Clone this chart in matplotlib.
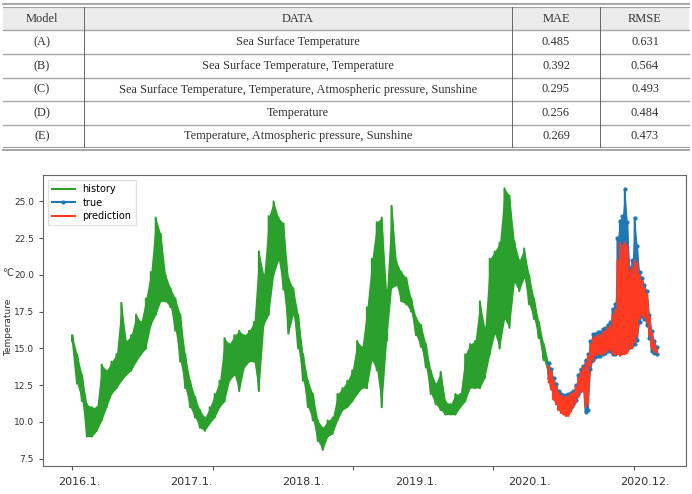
import numpy as np
import matplotlib.pyplot as plt
from matplotlib.patches import Rectangle

# ---- table content ----
header = ['Model', 'DATA', 'MAE', 'RMSE']
models = ['(A)', '(B)', '(C)', '(D)', '(E)']
inputs = ['Sea Surface Temperature',
          'Sea Surface Temperature, Temperature',
          'Sea Surface Temperature, Temperature, Atmospheric pressure, Sunshine',
          'Temperature',
          'Temperature, Atmospheric pressure, Sunshine']
mae = ['0.485', '0.392', '0.295', '0.256', '0.269']
rmse = ['0.631', '0.564', '0.493', '0.484', '0.473']

# ---- series (hourly sample index), read as low / high envelope per sample ----
hist_step = 350
hist_hi = [15.9, 14.6, 13.2, 11.2, 11.0, 11.0, 13.9, 13.5, 14.1, 14.6,
           18.1, 15.5, 15.9, 17.3, 16.8, 18.4, 20.2, 23.9, 22.8, 20.0,
           19.1, 18.4, 17.3, 14.6, 12.8, 11.7, 10.8, 10.3, 11.0, 11.9,
           12.8, 15.7, 15.3, 15.9, 16.2, 15.9, 16.2, 16.8, 21.6, 20.0,
           24.0, 25.0, 23.9, 23.5, 19.8, 19.1, 17.3, 14.6, 12.8, 11.9,
           10.1, 9.6, 10.1, 10.3, 11.9, 12.3, 12.8, 13.5, 15.5, 15.1,
           17.8, 21.1, 23.6, 23.9, 18.9, 24.7, 20.9, 20.2, 19.8, 18.4,
           17.1, 16.6, 15.3, 13.5, 12.6, 13.4, 11.4, 11.2, 11.9, 11.9,
           14.6, 15.3, 15.5, 18.2, 16.4, 21.1, 21.6, 22.2, 25.9, 25.4,
           22.3, 21.0, 21.8, 20.0, 18.4, 16.8, 15.3, 14.0]
hist_lo = [15.5, 12.6, 11.4, 9.0, 9.0, 9.4, 10.1, 11.0, 11.9, 12.3,
           12.8, 13.2, 13.5, 14.1, 14.6, 15.0, 16.6, 17.3, 18.2, 18.2,
           17.8, 16.2, 14.1, 12.3, 11.0, 10.3, 9.6, 9.4, 9.9, 10.3,
           11.0, 11.4, 12.8, 13.2, 12.1, 13.7, 14.1, 14.1, 12.1, 16.6,
           17.3, 20.0, 21.0, 19.0, 16.0, 17.3, 15.0, 12.8, 11.0, 10.1,
           8.7, 8.1, 9.0, 9.2, 10.1, 10.8, 11.0, 11.4, 11.9, 12.3,
           12.3, 14.2, 13.5, 11.0, 15.5, 19.1, 19.3, 18.2, 18.0, 17.5,
           15.9, 15.1, 13.7, 11.9, 11.2, 10.8, 10.5, 10.5, 10.5, 11.0,
           11.4, 12.3, 12.3, 12.3, 13.0, 14.6, 16.0, 15.0, 17.0, 16.4,
           19.5, 18.9, 19.8, 18.0, 17.0, 15.7, 14.2, 13.2]

fc_start = 33950
fc_step = 175
true_hi = [14.0, 13.6, 13.0, 12.6, 12.1, 11.9, 11.8, 11.8, 11.9, 12.0,
           12.1, 12.5, 13.2, 13.6, 13.8, 14.2, 14.6, 15.5, 15.95, 16.0,
           16.1, 16.1, 16.3, 16.4, 16.6, 16.8, 17.7, 18.0, 22.5, 23.7,
           24.0, 25.86, 23.6, 20.5, 21.0, 23.9, 22.0, 20.2, 19.8, 19.3,
           18.9, 17.3, 16.2, 15.5, 15.1]
true_lo = [13.0, 12.5, 11.9, 11.6, 11.2, 11.1, 11.0, 10.9, 10.9, 11.0,
           11.2, 11.5, 11.9, 12.2, 12.3, 10.7, 10.8, 13.6, 14.2, 14.4,
           14.5, 14.5, 14.6, 14.7, 14.8, 14.8, 14.6, 14.6, 15.0, 14.8,
           15.5, 15.2, 15.0, 15.1, 15.2, 15.3, 15.6, 16.8, 17.2, 17.0,
           16.6, 15.7, 14.8, 14.7, 14.6]
pred_hi = [13.8, 13.4, 12.8, 12.4, 12.0, 11.8, 11.7, 11.7, 11.8, 11.9,
           12.0, 12.4, 13.0, 13.4, 13.7, 14.0, 14.5, 15.3, 15.7, 15.8,
           15.9, 15.9, 16.1, 16.2, 16.4, 16.5, 17.3, 17.6, 21.0, 22.2,
           22.0, 22.2, 22.0, 20.3, 20.5, 21.0, 20.8, 20.0, 19.6, 19.1,
           18.7, 17.1, 16.0, 15.3, 14.9]
pred_lo = [12.7, 12.2, 11.5, 11.2, 10.8, 10.6, 10.5, 10.4, 10.4, 10.7,
           11.0, 11.3, 11.7, 12.0, 12.1, 11.0, 11.2, 13.8, 14.2, 14.5,
           14.6, 14.6, 14.6, 14.7, 14.8, 14.9, 14.6, 14.6, 14.6, 14.5,
           14.6, 14.6, 14.7, 15.0, 15.0, 15.4, 15.8, 17.0, 17.3, 17.1,
           16.8, 15.9, 15.0, 14.8, 14.7]

major_ticks = [0, 10000, 20000, 30000, 40000]
date_labels = ['2016.1.', '2017.1.', '2018.1.', '2019.1.', '2020.1.', '2020.12.']
date_label_pos = [500, 8500, 16500, 24550, 32600, 40800]
y_ticks = [7.5, 10.0, 12.5, 15.0, 17.5, 20.0, 22.5, 25.0]


def zigzag(start, step, lo, hi):
    x = start + np.arange(len(lo)) * step
    xs = np.repeat(x, 2)
    ys = np.column_stack([lo, hi]).ravel()
    return x, xs, ys


W, H = 692, 494
fig = plt.figure(figsize=(W / 100, H / 100), dpi=100)

# ---- table drawn in pixel coordinates ----
tab = fig.add_axes([0, 1 - 152 / H, 1, 152 / H])
tab.set_xlim(0, W)
tab.set_ylim(152, 0)
tab.axis('off')

col_edges = [3, 84, 512, 600, 689]
col_centers = [42, 298, 556, 645]
row_edges = [7, 30, 54, 78, 101, 125, 147]
tfont = dict(family='Liberation Serif', size=8.9, color='#333333',
             ha='center', va='center')

tab.add_patch(Rectangle((col_edges[0], row_edges[0]), col_edges[-1] - col_edges[0],
                        row_edges[1] - row_edges[0], facecolor='#ececec', edgecolor='none'))
tab.plot([col_edges[0], col_edges[-1]], [4, 4], color='#a0a0a0', lw=1.3)
tab.plot([col_edges[0], col_edges[-1]], [7, 7], color='#a0a0a0', lw=0.8)
for y in row_edges[1:-1]:
    tab.plot([col_edges[0], col_edges[-1]], [y, y], color='#a8a8a8', lw=1.0)
tab.plot([col_edges[0], col_edges[-1]], [147, 147], color='#a0a0a0', lw=0.8)
tab.plot([col_edges[0], col_edges[-1]], [150, 150], color='#a0a0a0', lw=1.3)
for x in col_edges[1:-1]:
    tab.plot([x, x], [row_edges[0], row_edges[-1]], color='#666666', lw=0.7)

row_centers = [(a + b) / 2 for a, b in zip(row_edges[:-1], row_edges[1:])]
for c, txt in zip(col_centers, header):
    tab.text(c, row_centers[0], txt, **tfont)
for i in range(len(models)):
    for c, txt in zip(col_centers, [models[i], inputs[i], mae[i], rmse[i]]):
        tab.text(c, row_centers[i + 1], txt, **tfont)

# ---- forecast chart ----
ax = fig.add_axes([43 / W, 28 / H, 643 / W, 291 / H])

hxs, hx, hy = zigzag(0, hist_step, hist_lo, hist_hi)
txs, tx, ty = zigzag(fc_start, fc_step, true_lo, true_hi)
pxs, px, py = zigzag(fc_start, fc_step, pred_lo, pred_hi)

green, blue, red = '#2ca02c', '#1f77b4', '#ff3a20'

ax.fill_between(hxs, hist_lo, hist_hi, color=green, lw=0)
ax.plot(hx, hy, color=green, lw=1.5, label='history')

ax.fill_between(txs, true_lo, true_hi, color=blue, lw=0)
ax.plot(tx, ty, color=blue, lw=1.5, marker='.', ms=4, label='true')

ax.fill_between(pxs, pred_lo, pred_hi, color=red, lw=0)
ax.plot(px, py, color=red, lw=1.5, label='prediction')

ax.set_ylim(7.0, 26.8)
ax.set_yticks(y_ticks)
ax.set_yticklabels([f'{v:.1f}' for v in y_ticks])
ax.set_xticks(major_ticks)
ax.set_xticklabels([''] * len(major_ticks))
ax.set_xticks(date_label_pos, minor=True)
ax.set_xticklabels(date_labels, minor=True)
ax.tick_params(which='major', length=3, color='#555555', labelsize=6.5,
               labelcolor='#333333')
ax.tick_params(axis='x', which='minor', length=0, pad=8, labelsize=8,
               labelcolor='#333333')
for s in ax.spines.values():
    s.set_color('#666666')
    s.set_linewidth(0.8)

ax.set_ylabel('Temperature', fontsize=6.5, color='#333333')
ax.yaxis.set_label_coords(-0.047, 0.478)
fig.text(8 / W, 1 - 273 / H, '℃', fontsize=7, color='#333333',
         ha='center', va='center', family=['DejaVu Sans', 'Noto Sans CJK KR'])

ax.legend(loc='upper left', fontsize=7, handlelength=2.3, borderpad=0.45,
          labelspacing=0.35, edgecolor='#dddddd', fancybox=False)

fig.savefig('out.png', dpi=100)
